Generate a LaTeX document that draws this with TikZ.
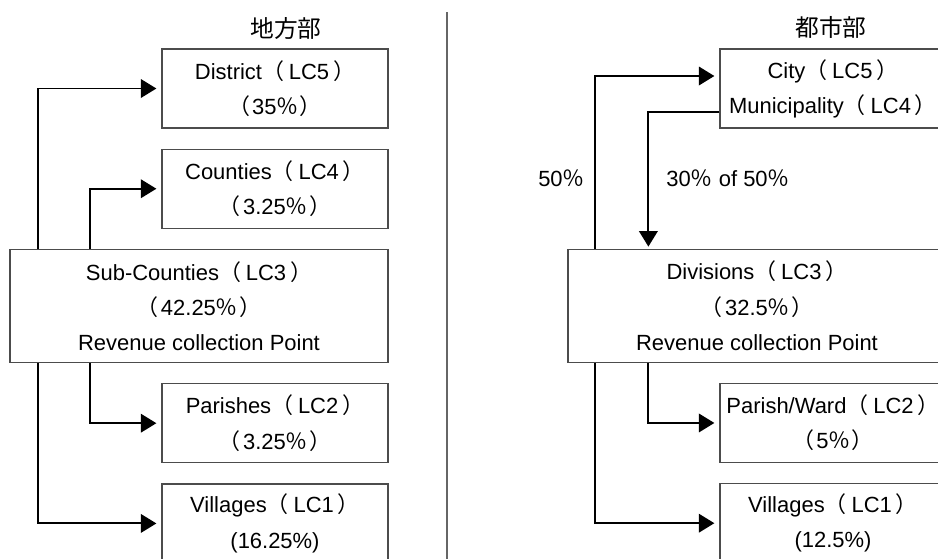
\documentclass[tikz,border=0pt]{standalone}
\usepackage{fontspec}
\setmainfont{Liberation Sans}
\newfontfamily\cjk{Noto Sans CJK JP}
\usepackage{tikz}
\usetikzlibrary{arrows.meta,calc,positioning}
\newcommand{\lp}{{\cjk （}\kern0.22em}
\newcommand{\rp}{\kern0.18em{\cjk ）}}
\newcommand{\olp}{{\cjk （}\kern0.1em}
\newcommand{\orp}{\kern0.06em{\cjk ）}}
\newcommand{\pc}{{\cjk ％}}

\begin{document}
\begin{tikzpicture}[node distance=4mm, every node/.style={font=\fontsize{12.5pt}{20pt}\selectfont,align=center,inner sep=0pt},
  lc/.style={draw=black!70,line width=0.7pt,minimum width=4.52cm,minimum height=1.58cm},
  lcw/.style={lc,minimum width=7.56cm,minimum height=2.26cm},
  ttl/.style={font=\fontsize{13.5pt}{16pt}\selectfont\cjk},
  a/.style={-{Triangle[length=3.1mm,width=3.7mm]},line width=1.1pt,shorten >=1mm}]
  \useasboundingbox (0,0) rectangle (18.76,-11.16);
  \clip (0,0) rectangle (18.76,-11.16);
  % rural side
  \node[ttl] (rural) at (5.72,-0.56) {地方部};
  \node[lc] (dist) at (5.50,-1.77) {District\lp LC5\rp\\\olp 35\pc\orp};
  \node[lc,below=of dist] (cnty) {Counties\lp LC4\rp\\\olp 3.25\pc\orp};
  \node[lcw,below left=4mm and 0mm of cnty.south east] (subc) {Sub-Counties\lp LC3\rp\\\olp 42.25\pc\orp\\Revenue collection Point};
  \node[lc,below left=4mm and 0mm of subc.south east] (par) {Parishes\lp LC2\rp\\\olp 3.25\pc\orp};
  \node[lc,below=of par] (vil) {Villages\lp LC1\rp\\(16.25\%)};
  \draw[a] ($(subc.north west)+(0.58,0)$) |- (dist);
  \draw[a] ($(subc.north west)+(1.62,0)$) |- (cnty);
  \draw[a] ($(subc.south west)+(1.62,0)$) |- (par);
  \draw[a] ($(subc.south west)+(0.58,0)$) |- (vil);
  % divider
  \draw[black!60,line width=0.6pt] (8.94,-0.24) -- (8.94,-11.3);
  % urban side
  \node[ttl] (urban) at (16.62,-0.54) {都市部};
  \node[lc] (city) at (16.66,-1.77) {City\lp LC5\rp\\Municipality\lp LC4\rp};
  \node[lcw,below left=2.4cm and 0mm of city.south east] (div) {Divisions\lp LC3\rp\\\olp 32.5\pc\orp\\Revenue collection Point};
  \node[lc,below left=4mm and 0mm of div.south east] (ward) {Parish/Ward\lp LC2\rp\\\olp 5\pc\orp};
  \node[lc,below=of ward] (uvil) {Villages\lp LC1\rp\\(12.5\%)};
  \draw[a] ($(div.north west)+(0.56,0)$) |- ($(city.west)+(0,0.25)$);
  \draw[a,shorten >=0.4mm] ($(city.west)+(0,-0.47)$) -| ($(div.north west)+(1.62,0)$);
  \draw[a] ($(div.south west)+(1.62,0)$) |- (ward);
  \draw[a] ($(div.south west)+(0.56,0)$) |- (uvil);
  \node[anchor=east] (half) at (11.70,-3.56) {50\pc};
  \node[anchor=west] (share) at (13.32,-3.56) {30\pc{} of 50\pc};
\end{tikzpicture}
\end{document}
